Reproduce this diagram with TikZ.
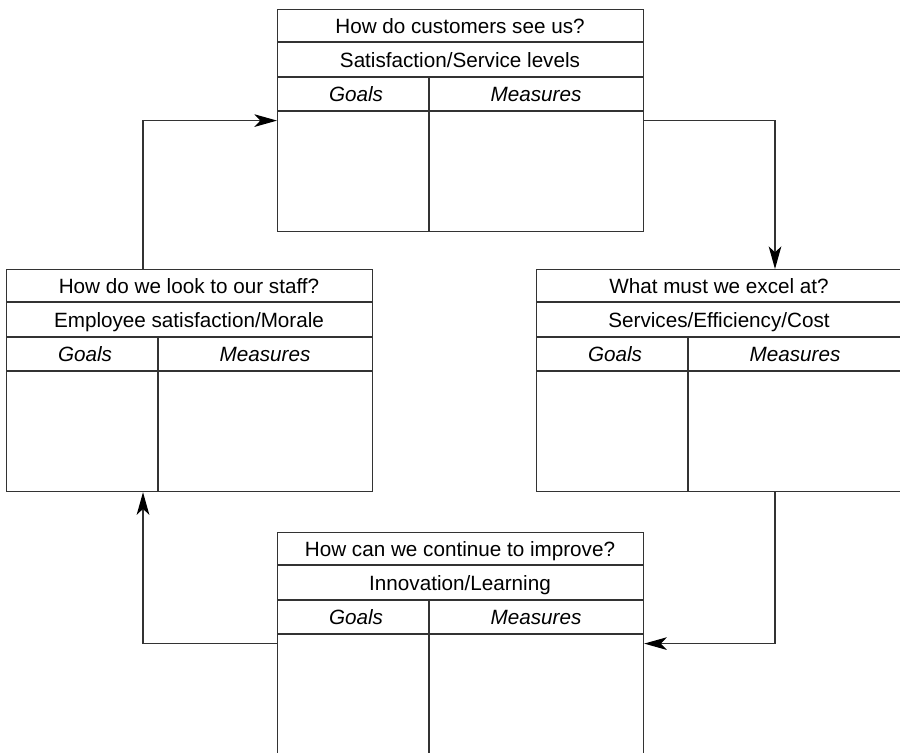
\documentclass[tikz,border=0pt]{standalone}
\usepackage{fontspec}
\setmainfont{Liberation Sans}
\usetikzlibrary{arrows.meta}
\definecolor{ink}{HTML}{333333}
\tikzset{
  ln/.style={draw=ink, line width=0.9pt},
  outer/.style={ln, rectangle, inner sep=0pt, minimum width=274.5pt, minimum height=166.5pt},
  txt/.style={anchor=base, inner sep=0pt, text=black, font=\fontsize{15.5}{18}\selectfont},
  arr/.style={ln, -{Stealth[length=17pt, width=9.5pt, inset=4.5pt, color=black]}},
}
\newcommand\bscbox[5]{%
  \node[outer, anchor=north west] (#1) at (#2,#3) {};
  \draw[ln] (#2,#3+33) -- (#2+366,#3+33)
            (#2,#3+68) -- (#2+366,#3+68)
            (#2,#3+102) -- (#2+366,#3+102)
            (#2+152,#3+68) -- (#2+152,#3+222);
  \node[txt] (#1-t) at (#2+183,#3+24) {#4};
  \node[txt] (#1-s) at (#2+183,#3+58.5) {#5};
  \node[txt, font=\fontsize{15.5}{18}\selectfont\itshape] (#1-g) at (#2+79,#3+92.5) {Goals};
  \node[txt, font=\fontsize{15.5}{18}\selectfont\itshape] (#1-m) at (#2+259,#3+92.5) {Measures};
}
\begin{document}
\begin{tikzpicture}[x=0.75pt, y=-0.75pt]
\clip (0,0) rectangle (900,753);
\fill[white] (0,0) rectangle (900,753);
\bscbox{T}{277}{9}{How do customers see us?}{Satisfaction/Service levels}
\bscbox{L}{6}{269}{How do we look to our staff?}{Employee satisfaction/Morale}
\bscbox{R}{536}{269}{What must we excel at?}{Services/Efficiency/Cost}
\bscbox{B}{277}{532}{How can we continue to improve?}{Innovation/Learning}
\coordinate (Lt) at ([xshift=102.75pt]L.north west);
\coordinate (Lb) at ([xshift=102.75pt]L.south west);
\coordinate (Rt) at ([xshift=179.25pt]R.north west);
\coordinate (Rb) at ([xshift=179.25pt]R.south west);
\draw[arr] (Lt) |- (T.west);
\draw[arr] (T.east) -| (Rt);
\draw[arr] (Rb) |- (B.east);
\draw[arr] (B.west) -| (Lb);
\end{tikzpicture}
\end{document}
